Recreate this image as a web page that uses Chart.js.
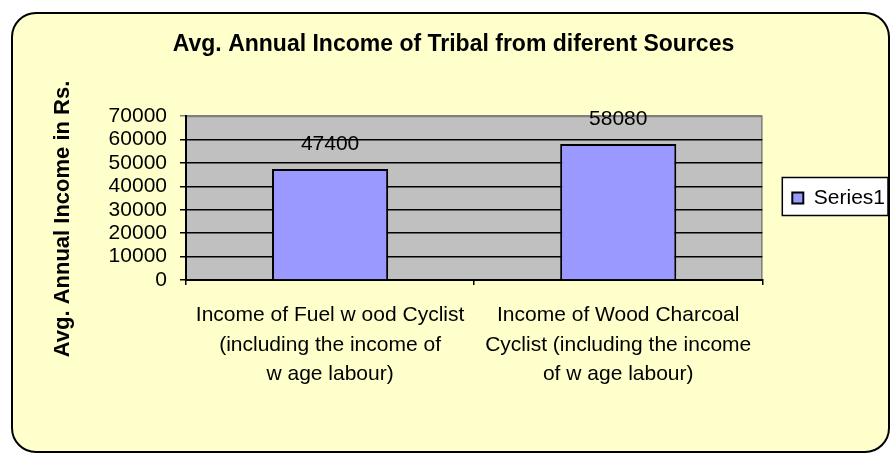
<!DOCTYPE html>
<html>
<head>
<meta charset="utf-8">
<script src="https://cdn.jsdelivr.net/npm/chart.js@4.4.1/dist/chart.umd.min.js"></script>
<style>
  html, body { margin: 0; padding: 0; background: #ffffff; }
  #wrap { width: 892px; height: 455px; }
</style>
</head>
<body>
<div id="wrap"><canvas id="incomeChart" width="892" height="455"></canvas></div>
<script>
// Chart data
const categories = [
  ['Income of Fuel w ood Cyclist', '(including the income of', 'w age labour)'],
  ['Income of Wood Charcoal', 'Cyclist (including the income', 'of w age labour)']
];
const incomeValues = [47400, 58080];
const seriesName = 'Series1';
const chartTitle = 'Avg. Annual Income of Tribal from diferent Sources';
const yAxisTitle = 'Avg. Annual Income in Rs.';
const yMin = 0;
const yMax = 70000;
const yStep = 10000;

const FONT = "'Liberation Sans', Arial, sans-serif";

// Background, plot area, legend frame, axis title and value labels
const decorations = {
    id: 'decorations',
    beforeDraw(chart) {
        const ctx = chart.ctx;
        const a = chart.chartArea;
        ctx.save();

        // rounded chart frame
        ctx.fillStyle = '#FFFFCC';
        ctx.strokeStyle = '#000000';
        ctx.lineWidth = 2;
        ctx.beginPath();
        ctx.roundRect(12, 13, 877, 439, 24);
        ctx.fill();
        ctx.stroke();

        // grey plot area
        ctx.fillStyle = '#C0C0C0';
        ctx.fillRect(a.left, a.top, a.right - a.left, a.bottom - a.top);
        ctx.strokeStyle = '#808080';
        ctx.lineWidth = 1.5;
        ctx.beginPath();
        ctx.moveTo(a.left, a.top + 0.5);
        ctx.lineTo(a.right - 0.5, a.top + 0.5);
        ctx.lineTo(a.right - 0.5, a.bottom);
        ctx.stroke();

        // legend box
        const hb = chart.legend.legendHitBoxes[0];
        if (hb) {
            const x0 = hb.left - 10;
            const y0 = hb.top - 10;
            const x1 = hb.left + hb.width + 3;
            const y1 = hb.top + hb.height + 7;
            ctx.fillStyle = '#FFFFFF';
            ctx.fillRect(x0, y0, x1 - x0, y1 - y0);
            ctx.strokeStyle = '#000000';
            ctx.lineWidth = 1.5;
            ctx.strokeRect(x0, y0, x1 - x0, y1 - y0);
        }

        // vertical axis title
        ctx.translate(63, 219);
        ctx.rotate(-Math.PI / 2);
        ctx.fillStyle = '#000000';
        ctx.font = 'bold 22px ' + FONT;
        ctx.textAlign = 'center';
        ctx.textBaseline = 'middle';
        ctx.fillText(yAxisTitle, 0, 0);
        ctx.restore();
    },
    afterDatasetsDraw(chart) {
        const ctx = chart.ctx;
        const meta = chart.getDatasetMeta(0);
        ctx.save();
        ctx.fillStyle = '#000000';
        ctx.font = '21px ' + FONT;
        ctx.textAlign = 'center';
        ctx.textBaseline = 'middle';
        meta.data.forEach(function(bar, i) {
            ctx.fillText(String(chart.data.datasets[0].data[i]), bar.x, bar.y - 25);
        });
        ctx.restore();
    }
};

document.addEventListener('DOMContentLoaded', function() {
    const canvas = document.getElementById('incomeChart');
    const ctx = canvas.getContext('2d');

    Chart.defaults.font.family = FONT;
    Chart.defaults.color = '#000000';

    new Chart(ctx, {
        type: 'bar',
        data: {
            labels: categories,
            datasets: [{
                label: seriesName,
                data: incomeValues,
                backgroundColor: '#9999FF',
                borderColor: '#000000',
                borderWidth: 2,
                barPercentage: 0.403,
                categoryPercentage: 1.0
            }]
        },
        options: {
            responsive: false,
            animation: false,
            layout: {
                padding: { left: 12, right: -3, top: 0, bottom: 0 }
            },
            plugins: {
                title: {
                    display: true,
                    text: chartTitle,
                    color: '#000000',
                    font: { size: 23, weight: 'bold' },
                    padding: { top: 31, bottom: 57.4 }
                },
                legend: {
                    position: 'right',
                    fullSize: false,
                    labels: {
                        boxWidth: 11,
                        boxHeight: 11,
                        padding: 30,
                        color: '#000000',
                        font: { size: 21 }
                    }
                },
                tooltip: { enabled: false }
            },
            scales: {
                x: {
                    grid: {
                        display: true,
                        drawOnChartArea: false,
                        drawTicks: true,
                        tickLength: 5,
                        lineWidth: 1.5,
                        color: '#000000'
                    },
                    border: { color: '#000000', width: 2 },
                    ticks: {
                        color: '#000000',
                        font: { size: 21, lineHeight: 1.4 },
                        padding: 16,
                        maxRotation: 0,
                        autoSkip: false
                    },
                    afterFit: function(scale) {
                        scale.height = 175;
                    }
                },
                y: {
                    min: yMin,
                    max: yMax,
                    grid: {
                        color: function(c) {
                            return c.tick && c.tick.value === yMax ? '#808080' : '#000000';
                        },
                        lineWidth: 1.5,
                        tickLength: 6
                    },
                    border: { color: '#000000', width: 2 },
                    ticks: {
                        stepSize: yStep,
                        autoSkip: false,
                        color: '#000000',
                        font: { size: 21 },
                        padding: 13,
                        callback: function(value) {
                            return String(value);
                        }
                    },
                    afterFit: function(scale) {
                        scale.width = 174;
                    }
                }
            }
        },
        plugins: [decorations]
    });
});
</script>
</body>
</html>
